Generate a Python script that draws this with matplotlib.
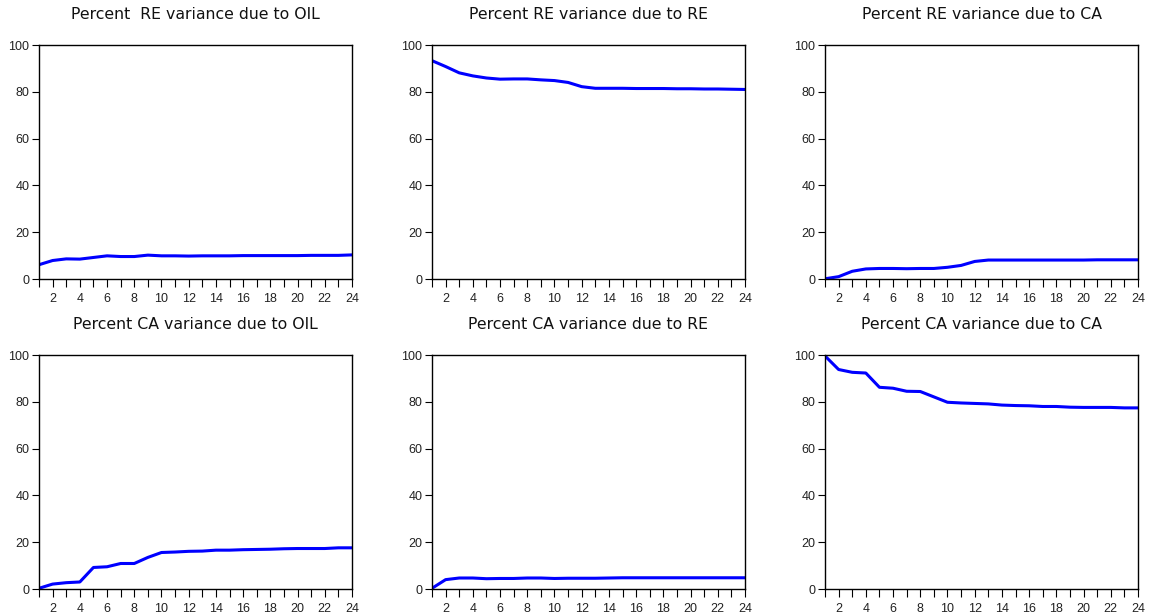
import matplotlib
matplotlib.use("Agg")
import matplotlib.pyplot as plt
from matplotlib.ticker import MultipleLocator, FuncFormatter

plt.rcParams['font.family'] = ['Liberation Sans', 'DejaVu Sans']

periods = list(range(1, 25))

re_oil = [6.1, 7.9, 8.6, 8.5, 9.2, 9.9, 9.6, 9.6, 10.2, 9.9, 9.9, 9.8,
          9.9, 9.9, 9.9, 10.0, 10.0, 10.0, 10.0, 10.0, 10.1, 10.1, 10.1, 10.3]
re_re = [93.3, 90.8, 88.1, 86.8, 85.9, 85.4, 85.5, 85.5, 85.1, 84.8, 84.0, 82.2,
         81.5, 81.5, 81.5, 81.4, 81.4, 81.4, 81.3, 81.3, 81.2, 81.2, 81.1, 81.0]
re_ca = [0.1, 1.0, 3.3, 4.3, 4.5, 4.5, 4.4, 4.5, 4.5, 5.0, 5.8, 7.5,
         8.1, 8.1, 8.1, 8.1, 8.1, 8.1, 8.1, 8.1, 8.2, 8.2, 8.2, 8.2]
ca_oil = [0.3, 2.1, 2.7, 3.0, 9.2, 9.5, 10.9, 10.9, 13.5, 15.6, 15.8, 16.1,
          16.2, 16.6, 16.6, 16.8, 16.9, 17.0, 17.2, 17.3, 17.3, 17.3, 17.6, 17.6]
ca_re = [0.3, 4.0, 4.7, 4.7, 4.4, 4.5, 4.5, 4.7, 4.7, 4.5, 4.6, 4.6,
         4.6, 4.7, 4.8, 4.8, 4.8, 4.8, 4.8, 4.8, 4.8, 4.8, 4.8, 4.8]
ca_ca = [99.6, 93.8, 92.6, 92.3, 86.2, 85.8, 84.5, 84.4, 82.1, 79.8, 79.5, 79.3,
         79.1, 78.6, 78.4, 78.3, 78.0, 78.0, 77.7, 77.6, 77.6, 77.6, 77.4, 77.4]

titles = ['Percent  RE variance due to OIL', 'Percent RE variance due to RE',
          'Percent RE variance due to CA', 'Percent CA variance due to OIL',
          'Percent CA variance due to RE', 'Percent CA variance due to CA']
series = [re_oil, re_re, re_ca, ca_oil, ca_re, ca_ca]

W, H = 1162, 616
fig = plt.figure(figsize=(W / 100, H / 100), dpi=100)

# axes boxes in pixels: left, right, top, bottom
lefts = [39, 432, 825]
rights = [352, 745, 1138]
tops = [45, 355]
bottoms = [279, 589]

for i in range(6):
    r, c = divmod(i, 3)
    x0 = lefts[c] / W
    w = (rights[c] - lefts[c]) / W
    y0 = 1 - bottoms[r] / H
    h = (bottoms[r] - tops[r]) / H
    ax = fig.add_axes([x0, y0, w, h])
    ax.plot(periods, series[i], color='#0000ff', linewidth=2.2)
    ax.set_xlim(1, 24)
    ax.set_ylim(0, 100)
    ax.set_yticks([0, 20, 40, 60, 80, 100])
    ax.xaxis.set_major_locator(MultipleLocator(1))
    ax.xaxis.set_major_formatter(FuncFormatter(lambda v, p: str(int(v)) if int(v) % 2 == 0 else ''))
    ax.tick_params(axis='both', direction='out', width=0.8, labelsize=9,
                   colors='black', labelcolor='#222222')
    ax.tick_params(axis='y', length=5, pad=2)
    ax.tick_params(axis='x', length=6, pad=4)
    for s in ax.spines.values():
        s.set_linewidth(1.0)
        s.set_color('black')
    ax.set_title(titles[i], fontsize=11.3, pad=19, color='#111111', family='DejaVu Sans')

fig.savefig('out.png', dpi=100)
